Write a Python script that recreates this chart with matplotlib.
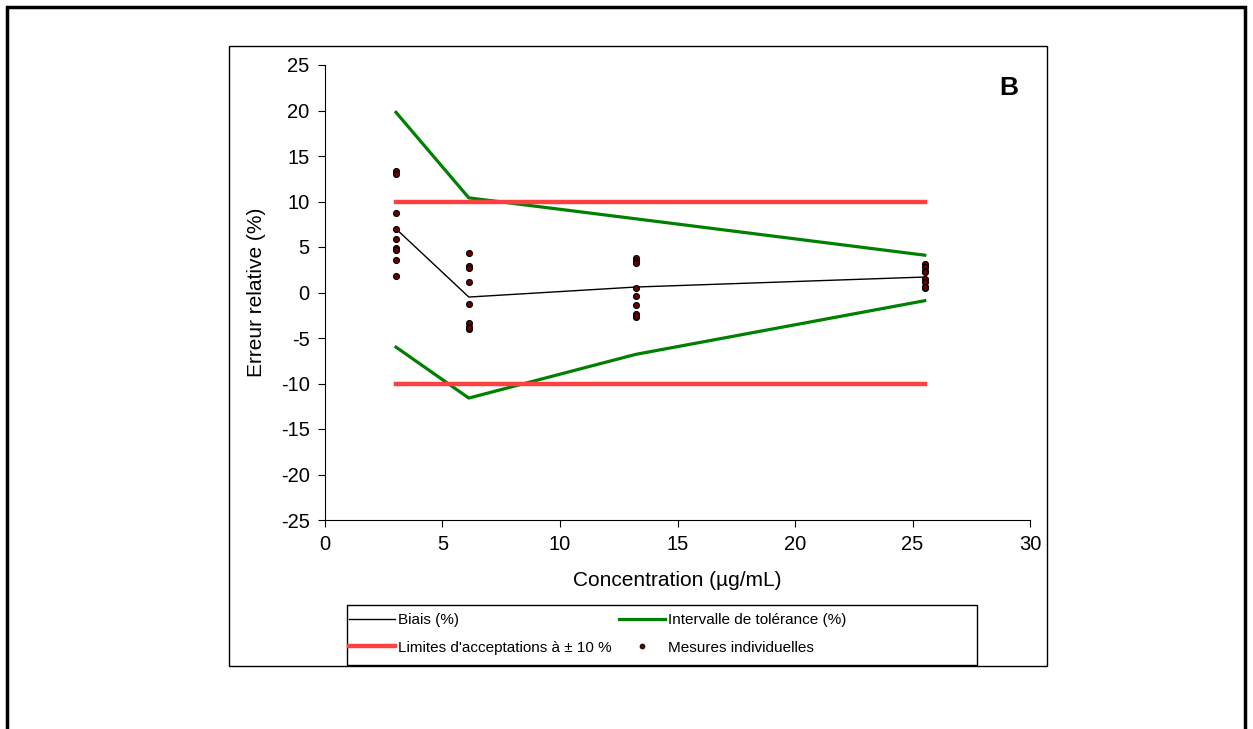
import matplotlib.pyplot as plt
from matplotlib.patches import Rectangle
from matplotlib.lines import Line2D

plt.rcParams['font.family'] = ['Liberation Sans', 'DejaVu Sans']
plt.rcParams['axes.unicode_minus'] = False

# niveaux de concentration (µg/mL)
conc = [3.02, 6.12, 13.22, 25.52]
biais = [7.0, -0.5, 0.6, 1.7]
tol_haut = [19.8, 10.4, 8.1, 4.1]
tol_bas = [-6.0, -11.6, -6.8, -0.9]
limites = [10, -10]

# mesures individuelles par niveau
mesures = {
    3.02: [13.3, 13.0, 8.7, 7.0, 5.9, 4.9, 4.7, 3.6, 1.8],
    6.12: [4.3, 2.9, 2.7, 1.2, -1.3, -3.3, -3.8, -4.0, -3.9],
    13.22: [3.8, 3.5, 3.2, 0.5, -0.35, -1.4, -2.4, -2.7, -2.6],
    25.52: [3.1, 2.8, 2.4, 2.2, 1.5, 1.2, 0.65, 0.45, 0.55],
}

W, H = 1253, 729
fig = plt.figure(figsize=(W / 100, H / 100), dpi=100)

# cadres
fig.patches.append(Rectangle((7 / W, -0.1), (1245 - 7) / W, 1.1 - 7 / H,
                             transform=fig.transFigure, fill=False,
                             edgecolor='black', linewidth=2.5))
fig.patches.append(Rectangle((229 / W, 1 - 666 / H), (1047 - 229) / W, (666 - 46) / H,
                             transform=fig.transFigure, fill=False,
                             edgecolor='black', linewidth=1))
# cadre de la légende
fig.patches.append(Rectangle((347 / W, 1 - 665 / H), (977 - 347) / W, (665 - 605) / H,
                             transform=fig.transFigure, fill=False,
                             edgecolor='black', linewidth=1))

ax = fig.add_axes([325 / W, 1 - 520 / H, (1030 - 325) / W, (520 - 65) / H])

ax.plot(conc, biais, color='black', linewidth=1)
ax.plot(conc, tol_haut, color='#008000', linewidth=2.3)
ax.plot(conc, tol_bas, color='#008000', linewidth=2.3)
for lim in limites:
    ax.plot([conc[0], conc[-1]], [lim, lim], color='#ff4040', linewidth=3.2)
for c, vals in mesures.items():
    ax.plot([c] * len(vals), vals, linestyle='none', marker='o', markersize=4.3,
            markerfacecolor='#6b0000', markeredgecolor='black', markeredgewidth=0.8)

ax.set_xlim(0, 30)
ax.set_ylim(-25, 25)
ax.set_xticks(range(0, 31, 5))
ax.set_yticks(range(-25, 26, 5))
ax.spines['top'].set_visible(False)
ax.spines['right'].set_visible(False)
ax.tick_params(labelsize=14.5, length=5, direction='out', pad=6)
ax.set_xlabel('Concentration (µg/mL)', fontsize=15, labelpad=12)
ax.set_ylabel('Erreur relative (%)', fontsize=15, labelpad=11)
ax.text(29.1, 22.5, 'B', fontsize=19, fontweight='bold', ha='center', va='center')

handles = [
    Line2D([], [], color='black', linewidth=1),
    Line2D([], [], color='#ff4040', linewidth=3.2),
    Line2D([], [], color='#008000', linewidth=2.3),
    Line2D([], [], linestyle='none', marker='o', markersize=3.5,
           markerfacecolor='#6b0000', markeredgecolor='black', markeredgewidth=0.6),
]
labels = ['Biais (%)', "Limites d'acceptations à ± 10 %",
          'Intervalle de tolérance (%)', 'Mesures individuelles']
fig.legend(handles, labels, ncol=2, loc='upper left',
           bbox_to_anchor=(349 / W, 1 - 613 / H),
           fontsize=11, frameon=False, borderpad=0, borderaxespad=0,
           handlelength=3.0, handletextpad=0.2, labelspacing=0.9, columnspacing=0.5)

fig.savefig('out.png', dpi=100)
